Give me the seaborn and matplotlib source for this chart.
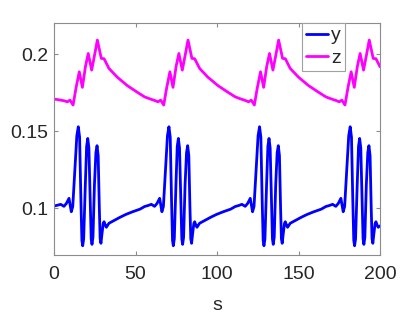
import matplotlib
matplotlib.use('Agg')
import matplotlib.pyplot as plt
import seaborn as sns
import pandas as pd

# y series (blue), one line per cycle
s_y = [0.0, 2.0, 4.1, 6.1, 7.6, 9.2, 10.6, 11.5, 12.8, 14.0, 14.9, 15.7, 16.5, 17.1, 17.6, 18.2, 19.2, 20.0, 20.7, 21.4, 22.2, 22.8, 23.3, 23.9, 24.8, 25.7, 26.4, 27.1, 27.8, 28.3, 28.8, 29.4, 30.2, 30.7, 31.4, 32.1, 33.7, 37.0, 40.5, 44.0, 48.0, 52.8,
       55.6, 57.6, 59.7, 61.7, 63.2, 64.8, 66.2, 67.1, 68.4, 69.6, 70.5, 71.3, 72.1, 72.7, 73.2, 73.8, 74.8, 75.6, 76.3, 77.0, 77.8, 78.4, 78.9, 79.5, 80.4, 81.3, 82.0, 82.7, 83.4, 83.9, 84.4, 85.0, 85.8, 86.3, 87.0, 87.7, 89.3, 92.6, 96.1, 99.6, 103.6, 108.4,
       111.2, 113.2, 115.3, 117.3, 118.8, 120.4, 121.8, 122.7, 124.0, 125.2, 126.1, 126.9, 127.7, 128.3, 128.8, 129.4, 130.4, 131.2, 131.9, 132.6, 133.4, 134.0, 134.5, 135.1, 136.0, 136.9, 137.6, 138.3, 139.0, 139.5, 140.0, 140.6, 141.4, 141.9, 142.6, 143.3, 144.9, 148.2, 151.7, 155.2, 159.2, 164.0,
       166.8, 168.8, 170.9, 172.9, 174.4, 176.0, 177.4, 178.3, 179.6, 180.8, 181.7, 182.5, 183.3, 183.9, 184.4, 185.0, 186.0, 186.8, 187.5, 188.2, 189.0, 189.6, 190.1, 190.7, 191.6, 192.5, 193.2, 193.9, 194.6, 195.1, 195.6, 196.2, 197.0, 197.5, 198.2, 198.9, 200.0]
y_vals = [0.1013, 0.1018, 0.1024, 0.1011, 0.1030, 0.1063, 0.0976, 0.1010, 0.1250, 0.1470, 0.1528, 0.1460, 0.1050, 0.0790, 0.0755, 0.0800, 0.1150, 0.1400, 0.1452, 0.1390, 0.1050, 0.0800, 0.0764, 0.0810, 0.1150, 0.1360, 0.1405, 0.1340, 0.1000, 0.0800, 0.0771, 0.0830, 0.0900, 0.0911, 0.0890, 0.0875, 0.0901, 0.0920, 0.0940, 0.0958, 0.0975, 0.0993,
          0.1010, 0.1016, 0.1024, 0.1011, 0.1030, 0.1063, 0.0976, 0.1010, 0.1250, 0.1470, 0.1528, 0.1460, 0.1050, 0.0790, 0.0755, 0.0800, 0.1150, 0.1400, 0.1452, 0.1390, 0.1050, 0.0800, 0.0764, 0.0810, 0.1150, 0.1360, 0.1405, 0.1340, 0.1000, 0.0800, 0.0771, 0.0830, 0.0900, 0.0911, 0.0890, 0.0875, 0.0901, 0.0920, 0.0940, 0.0958, 0.0975, 0.0993,
          0.1010, 0.1016, 0.1024, 0.1011, 0.1030, 0.1063, 0.0976, 0.1010, 0.1250, 0.1470, 0.1528, 0.1460, 0.1050, 0.0790, 0.0755, 0.0800, 0.1150, 0.1400, 0.1452, 0.1390, 0.1050, 0.0800, 0.0764, 0.0810, 0.1150, 0.1360, 0.1405, 0.1340, 0.1000, 0.0800, 0.0771, 0.0830, 0.0900, 0.0911, 0.0890, 0.0875, 0.0901, 0.0920, 0.0940, 0.0958, 0.0975, 0.0993,
          0.1010, 0.1016, 0.1024, 0.1011, 0.1030, 0.1063, 0.0976, 0.1010, 0.1250, 0.1470, 0.1528, 0.1460, 0.1050, 0.0790, 0.0755, 0.0800, 0.1150, 0.1400, 0.1452, 0.1390, 0.1050, 0.0800, 0.0764, 0.0810, 0.1150, 0.1360, 0.1405, 0.1340, 0.1000, 0.0800, 0.0771, 0.0830, 0.0900, 0.0911, 0.0890, 0.0875, 0.0884]

# z series (magenta)
s_z = [0.0, 3.0, 6.1, 8.2, 9.8, 11.7, 13.5, 15.5, 17.4, 19.3, 21.0, 23.1, 25.0, 26.6, 29.0, 30.7, 33.7, 38.8, 45.0, 51.1,
       55.6, 58.6, 61.7, 63.8, 65.4, 67.3, 69.1, 71.1, 73.0, 74.9, 76.6, 78.7, 80.6, 82.2, 84.6, 86.3, 89.3, 94.4, 100.6, 106.7,
       111.2, 114.2, 117.3, 119.4, 121.0, 122.9, 124.7, 126.7, 128.6, 130.5, 132.2, 134.3, 136.2, 137.8, 140.2, 141.9, 144.9, 150.0, 156.2, 162.3,
       166.8, 169.8, 172.9, 175.0, 176.6, 178.5, 180.3, 182.3, 184.2, 186.1, 187.8, 189.9, 191.8, 193.4, 195.8, 197.5, 200.0]
z_vals = [0.1708, 0.1703, 0.1697, 0.1690, 0.1701, 0.1669, 0.1780, 0.1885, 0.1784, 0.1920, 0.2004, 0.1896, 0.2000, 0.2091, 0.1972, 0.1970, 0.1907, 0.1850, 0.1795, 0.1752,
          0.1722, 0.1710, 0.1699, 0.1690, 0.1701, 0.1669, 0.1780, 0.1885, 0.1784, 0.1920, 0.2004, 0.1896, 0.2000, 0.2091, 0.1972, 0.1970, 0.1907, 0.1850, 0.1795, 0.1752,
          0.1722, 0.1710, 0.1699, 0.1690, 0.1701, 0.1669, 0.1780, 0.1885, 0.1784, 0.1920, 0.2004, 0.1896, 0.2000, 0.2091, 0.1972, 0.1970, 0.1907, 0.1850, 0.1795, 0.1752,
          0.1722, 0.1710, 0.1699, 0.1690, 0.1701, 0.1669, 0.1780, 0.1885, 0.1784, 0.1920, 0.2004, 0.1896, 0.2000, 0.2091, 0.1972, 0.1970, 0.1918]

x_ticks = [0, 50, 100, 150, 200]
y_ticks = [0.1, 0.15, 0.2]
y_tick_labels = ['0.1', '0.15', '0.2']

df_y = pd.DataFrame({'s': s_y, 'value': y_vals})
df_z = pd.DataFrame({'s': s_z, 'value': z_vals})

sns.set_style('ticks')
plt.rcParams['font.family'] = ['Liberation Sans', 'DejaVu Sans']

fig = plt.figure(figsize=(4.2, 3.15), dpi=100)
ax = fig.add_axes([0.1286, 0.1905, 0.7762, 0.7365])

sns.lineplot(data=df_y, x='s', y='value', color='#0000ff', linewidth=2.0,
             label='y', ax=ax, estimator=None, sort=False)
sns.lineplot(data=df_z, x='s', y='value', color='#ff00ff', linewidth=2.0,
             label='z', ax=ax, estimator=None, sort=False)

ax.set_xlim(0, 200)
ax.set_ylim(0.0695, 0.2202)
ax.set_xticks(x_ticks)
ax.set_yticks(y_ticks)
ax.set_yticklabels(y_tick_labels)
ax.set_xlabel('s', fontsize=14, color='#262626', labelpad=10)
ax.set_ylabel('')

for sp in ax.spines.values():
    sp.set_visible(True)
    sp.set_color('#8c8c8c')
    sp.set_linewidth(0.8)
ax.tick_params(direction='in', length=3, width=0.8, color='#8c8c8c',
               labelsize=14, labelcolor='#262626', top=True, right=True)
ax.tick_params(axis='x', pad=8)
ax.tick_params(axis='y', pad=4)

leg = ax.legend(loc='upper left', bbox_to_anchor=(0.761, 1.0), borderaxespad=0,
                fontsize=14, handlelength=1.15, handletextpad=0.15,
                borderpad=0.2, labelspacing=0.25, fancybox=False,
                framealpha=1, edgecolor='#a0a0a0')
leg.get_frame().set_linewidth(0.8)

fig.savefig('out.png', dpi=100)
